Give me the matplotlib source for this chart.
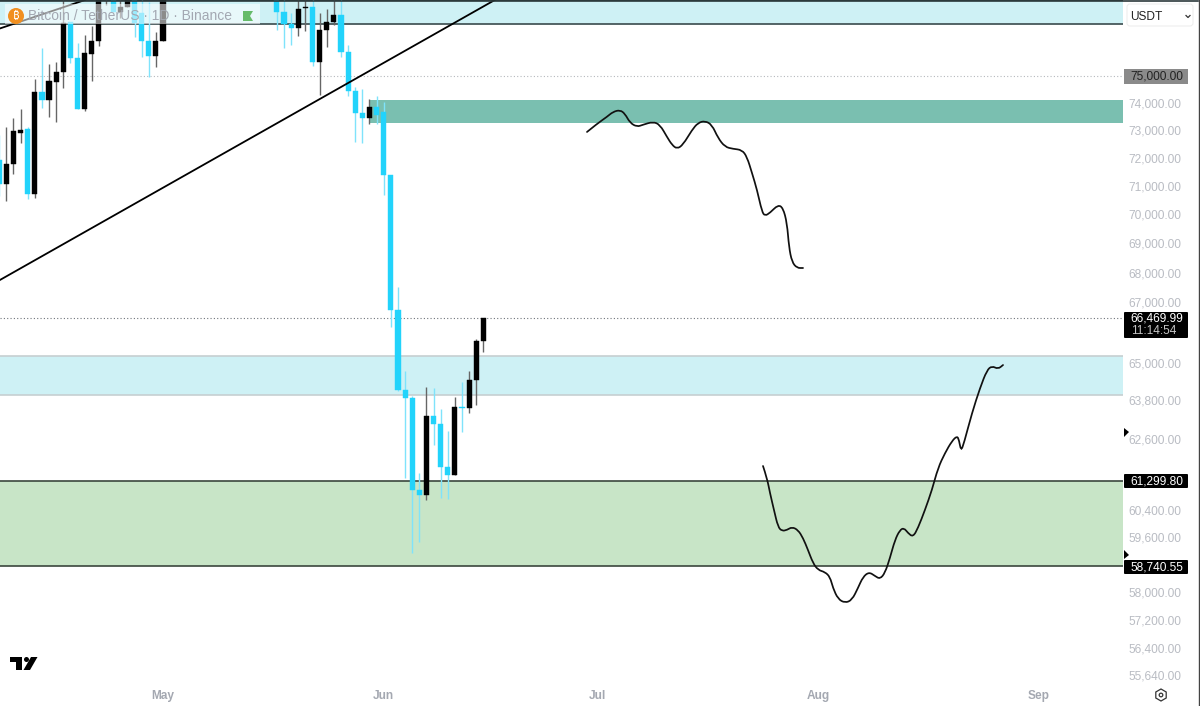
import numpy as np
import matplotlib
matplotlib.use('Agg')
import matplotlib.pyplot as plt
from matplotlib.path import Path
from matplotlib.patches import FancyBboxPatch, Rectangle, Polygon, Circle, RegularPolygon, PathPatch

plt.rcParams['font.family'] = ['Liberation Sans', 'DejaVu Sans']

# Candles, day number counted from 1 May
days = [-23, -22, -21, -20, -19, -18, -17, -16, -15, -14, -13, -12, -11, -10, -9, -8, -7, -6, -5, -4, -3, -2, -1, 0,
        16, 17, 18, 19, 20, 21, 22, 23, 24, 25, 26, 27, 28, 29, 30, 31, 32, 33, 34, 35, 36, 37, 38, 39, 40, 41, 42, 43, 44, 45]
opens = [71927, 71073, 71785, 72900, 73045, 70720, 74410, 74110, 74777, 75150, 77046, 75680, 73780, 75828, 76320, 78300,
         78500, 77430, 77620, 78100, 77390, 76320, 75754, 76320,
         78300, 77430, 76970, 76815, 77570, 77630, 75530, 76740, 77046, 77316, 75903, 74445, 73636, 73454, 73854, 73672,
         71400, 66742, 64130, 63880, 61015, 60860, 63307, 63056, 61716, 61470, 63592, 63560, 64453, 65720]
highs = [72830, 73126, 73454, 73780, 73126, 74893, 76056, 75454, 75530, 78090, 77046, 76244, 76549, 76893, 78700, 79500,
         78800, 78500, 78600, 78500, 78000, 77800, 76664, 79000,
         78700, 78000, 77392, 78000, 78200, 78300, 77392, 77547, 78200, 78200, 76168, 74590, 74515, 74146, 74258, 74036,
         71400, 67512, 64745, 63940, 61530, 64230, 64197, 63530, 62836, 63910, 64390, 64745, 65785, 66470]
lows = [70650, 70475, 71435, 72538, 70546, 70580, 73817, 73490, 73308, 74552, 75492, 73780, 73703, 74814, 76130, 77700,
        77430, 77200, 77610, 76470, 75716, 74960, 75336, 76320,
        76740, 76056, 76168, 76510, 76700, 75380, 74294, 76090, 76930, 75716, 74258, 72575, 72538, 73235, 73235, 70686,
        66180, 64100, 61380, 59128, 59454, 60711, 62400, 60770, 60740, 61470, 62805, 63400, 63655, 65360]
closes = [71073, 71785, 72973, 73010, 70720, 74410, 74110, 74814, 75150, 77008, 75680, 73780, 75866, 76320, 78280, 79000,
          77430, 77620, 78200, 77010, 76320, 75754, 76320, 78400,
          77430, 76970, 76815, 77547, 77630, 75530, 76740, 77046, 77316, 75903, 74445, 73636, 73454, 73854, 73563, 71400,
          66742, 64130, 63880, 61015, 60860, 63307, 63056, 61716, 61470, 63592, 63560, 64453, 65720, 66469.99]

# Hand drawn projections
sketch1_days = [59.55, 60.96, 62.36, 63.2, 64.19, 64.89, 65.59, 66.57, 67.42, 68.82, 69.8, 70.79, 71.49, 72.19, 73.03, 74.3, 75.14, 76.12,
                77.1, 77.95, 78.93, 80.06, 81.32, 82.02, 82.72, 83.43, 84.13, 84.55, 85.25, 86.38, 87.08, 87.64, 87.92, 88.34, 89.04, 89.89]
sketch1_prices = [72937, 73235, 73490, 73672, 73740, 73600, 73270, 73125, 73200, 73310, 73200, 72755, 72470, 72325, 72470, 73010, 73270, 73340,
                  73200, 72720, 72395, 72325, 72287, 72035, 71465, 70862, 70090, 69950, 70055, 70335, 70230, 69700, 68870, 68359, 68155, 68155]
sketch2_days = [84.27, 84.83, 85.25, 85.81, 86.38, 86.94, 87.64, 88.34, 89.19, 89.89, 90.59, 91.29, 92.0, 92.98, 93.68, 94.1, 94.8, 95.79,
                96.77, 97.61, 98.31, 99.16, 100.0, 100.7, 101.4, 102.1, 102.8, 103.5, 104.07, 104.63, 105.34, 106.04, 107.02, 108.0,
                108.85, 109.83, 110.81, 111.52, 111.8, 112.08, 112.5, 113.62, 114.75, 115.73, 116.43, 117.28, 117.98]
sketch2_prices = [61749, 61380, 60924, 60410, 59900, 59781, 59811, 59900, 59811, 59573, 59217, 58834, 58630, 58570, 58427, 58107, 57789, 57675,
                  57760, 58107, 58427, 58570, 58455, 58368, 58542, 58981, 59513, 59811, 59870, 59722, 59602, 59870, 60410, 61015,
                  61688, 62150, 62523, 62679, 62554, 62212, 62461, 63400, 64197, 64775, 64905, 64808, 64937]

# Trend lines
trend1_days = [-22.89, 46.6]
trend1_prices = [67750, 77896]
trend2_days = [-22.89, -10.95]
trend2_prices = [76800, 77896]

# Zones
top_zone = [76970, 77880]
teal_zone = [73264, 74109]
cyan_zone = [63973, 65228]
green_zone = [58740.55, 61299.80]
teal_start = 28.9

# Axes labels
price_ticks = [74000, 73000, 72000, 71000, 70000, 69000, 68000, 67000, 65000, 63800, 62600, 60400, 59600, 58000, 57200, 56400, 55640]
month_ticks = [0, 31, 61, 92, 123]
month_labels = ['May', 'Jun', 'Jul', 'Aug', 'Sep']
last_price = 66469.99
level_price = 75000


def draw_sketch(ax, xs, ys):
    # round the corners, the points are used as bezier control points
    verts = [(xs[0], ys[0])]
    codes = [Path.MOVETO]
    for i in range(1, len(xs) - 1):
        verts.append((xs[i], ys[i]))
        verts.append(((xs[i] + xs[i + 1]) / 2, (ys[i] + ys[i + 1]) / 2))
        codes += [Path.CURVE3, Path.CURVE3]
    verts.append((xs[-1], ys[-1]))
    codes.append(Path.LINETO)
    ax.add_patch(PathPatch(Path(verts, codes), fc='none', ec='#111111', lw=1.25, capstyle='round', zorder=5))


fig = plt.figure(figsize=(12, 7.06), dpi=100)
ax = fig.add_axes([0, 1 - 682 / 706, 1123 / 1200, 682 / 706])
ax.set_yscale('log')
ax.set_xlim(-22.89, 134.83)
ax.set_ylim(55446, 77896)

# zones
ax.axhspan(top_zone[0], top_zone[1], color='#cef1f5', lw=0, zorder=1)
ax.axhspan(cyan_zone[0], cyan_zone[1], color='#cef1f5', lw=0, zorder=1)
ax.axhspan(green_zone[0], green_zone[1], color='#c8e5c7', lw=0, zorder=1)
ax.fill_between([teal_start, 134.83], teal_zone[0], teal_zone[1], color='#7abfb0', lw=0, zorder=1)
ax.axhline(top_zone[0], color='#46585a', lw=1.3, zorder=2)
ax.axhline(top_zone[1], color='#2c3a3c', lw=1.5, zorder=2)
ax.axhline(cyan_zone[0], color='#c6cfd1', lw=1.2, zorder=2)
ax.axhline(cyan_zone[1], color='#c6cfd1', lw=1.2, zorder=2)
ax.axhline(green_zone[0], color='#3b473d', lw=1.2, zorder=2)
ax.axhline(green_zone[1], color='#3b473d', lw=1.2, zorder=2)
ax.axhline(level_price, color='#b5b8bd', lw=0.8, ls=(0, (1, 2)), zorder=2)
ax.axhline(last_price, color='#70747a', lw=0.8, ls=(0, (1, 2)), zorder=2)

# candles, black is up and blue is down
for d, o, h, l, c in zip(days, opens, highs, lows, closes):
    if c >= o:
        body, wick = '#000000', '#666666'
    else:
        body, wick = '#22d3fb', '#7fe3fb'
    ax.vlines(d, l, h, color=wick, lw=1.0, zorder=3)
    ax.bar(d, abs(c - o), bottom=min(o, c), width=0.72, color=body, edgecolor=body, lw=0.3, zorder=4)

ax.plot(trend1_days, trend1_prices, color='black', lw=1.3, zorder=5)
ax.plot(trend2_days, trend2_prices, color='black', lw=1.3, zorder=5)
draw_sketch(ax, sketch1_days, sketch1_prices)
draw_sketch(ax, sketch2_days, sketch2_prices)

for s in ax.spines.values():
    s.set_visible(False)
ax.yaxis.tick_right()
ax.set_yticks(price_ticks)
ax.set_yticklabels([f'{p:,.2f}' for p in price_ticks], color='#b9bcc3', fontsize=8.6, va='center_baseline')
ax.minorticks_off()
ax.set_xticks(month_ticks)
ax.set_xticklabels(month_labels, color='#a4a8b1', fontsize=8.6, fontweight='bold')
ax.tick_params(axis='y', length=0, pad=4)
ax.tick_params(axis='x', length=0, pad=6)

# overlay in pixels for the chart furniture
ov = fig.add_axes([0, 0, 1, 1], facecolor='none')
ov.set_xlim(0, 1200)
ov.set_ylim(706, 0)
ov.axis('off')

# legend bar
ov.add_patch(Rectangle((5, 4), 255, 20, color='white', alpha=0.55, lw=0, zorder=6))
ov.add_patch(Circle((16, 16), 8, color='#f18f1f', lw=0, zorder=7))
ov.text(16, 16.5, '₿', color='white', fontsize=8, ha='center', va='center', fontweight='bold', zorder=8,
        family=['Noto Sans', 'Roboto', 'Open Sans', 'Lato', 'Inter', 'Noto Sans CJK SC', 'Liberation Sans', 'DejaVu Sans'])
ov.text(28, 16, 'Bitcoin / TetherUS · 1D · Binance', color='#a3a8b2', fontsize=10, va='center', zorder=8)
ov.add_patch(Polygon([(243, 11), (253, 11), (250, 16), (253, 21), (243, 21)], color='#66bb6a', lw=0, zorder=8))

# currency box
ov.add_patch(FancyBboxPatch((1127, 4), 66, 22, boxstyle='round,pad=0,rounding_size=3', fc='white', ec='#eeeeee', lw=0.8))
ov.text(1130, 16.5, 'USDT', color='#222222', fontsize=8.6, va='center')
ov.plot([1186, 1188, 1190], [15.5, 17.5, 15.5], color='#333333', lw=0.9)

# price badges
ov.add_patch(Rectangle((1124, 69), 64, 14.5, color='#8a8a8a', lw=0))
ov.text(1183, 76.5, '75,000.00', color='#222222', fontsize=8.6, ha='right', va='center')
ov.add_patch(FancyBboxPatch((1124, 312), 64, 26, boxstyle='round,pad=0,rounding_size=1', color='black', lw=0))
ov.text(1183, 318.5, '66,469.99', color='white', fontsize=8.6, ha='right', va='center')
ov.text(1176, 331, '11:14:54', color='#c4c4c4', fontsize=8.6, ha='right', va='center')
ov.add_patch(FancyBboxPatch((1124, 474), 64, 14, boxstyle='round,pad=0,rounding_size=1', color='black', lw=0))
ov.text(1183, 481.5, '61,299.80', color='white', fontsize=8.6, ha='right', va='center')
ov.add_patch(FancyBboxPatch((1124, 560), 64, 14, boxstyle='round,pad=0,rounding_size=1', color='black', lw=0))
ov.text(1183, 567.5, '58,740.55', color='white', fontsize=8.6, ha='right', va='center')

# alert arrows on the scale
ov.add_patch(Polygon([(1124, 428), (1129, 432), (1124, 437)], color='black', lw=0))
ov.add_patch(Polygon([(1124, 550), (1129, 555), (1124, 559)], color='black', lw=0))

# TradingView logo
ov.add_patch(Polygon([(10, 657), (22, 657), (22, 670), (16, 670), (16, 662), (10, 662)], color='black', lw=0))
ov.add_patch(Circle((26.5, 659.5), 2.5, color='black', lw=0))
ov.add_patch(Polygon([(31, 657), (37.5, 657), (30, 670), (23.5, 670)], color='black', lw=0))

# settings icon
ov.add_patch(RegularPolygon((1161, 695), 6, radius=6, fc='none', ec='#333333', lw=0.9))
ov.add_patch(Circle((1161, 695), 1.8, fc='none', ec='#333333', lw=0.9))

# frame
ov.plot([0, 1198], [0.5, 0.5], color='#2c3a3c', lw=1.2)
ov.plot([1198.5, 1198.5], [0, 706], color='#444444', lw=1.0)

fig.savefig('out.png', dpi=100)
